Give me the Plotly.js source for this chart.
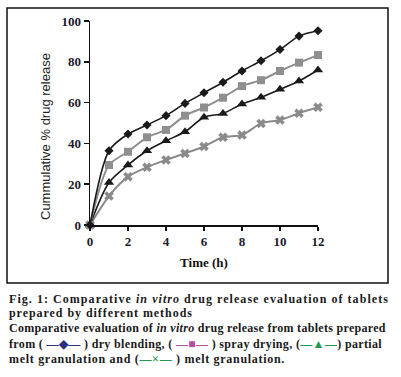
<!DOCTYPE html>
<html><head><meta charset="utf-8">
<script src="https://cdn.plot.ly/plotly-3.0.1.min.js"></script>
<style>html,body{margin:0;padding:0;background:#fff}#chart{width:401px;height:377px}</style>
</head><body><div id="chart"></div>
<script>
const time = [0,1,2,3,4,5,6,7,8,9,10,11,12];
const dryBlending = [0,36.4,44.6,49,53.6,59.6,64.8,70,75.5,80.5,86,92.6,95.2];
const sprayDrying = [0,29.4,35.9,43,46.6,53.6,57.6,62.4,68.1,71,75.5,79.6,83.3];
const partialMelt = [0,20.8,29.4,36.4,41.3,45.7,52.8,54.7,59.3,62.6,66.5,70.6,76];
const meltGran = [0,14.2,23.7,28.3,31.9,35.1,38.5,43,44.1,49.8,51.5,54.8,57.7];
const seriesNames = ['dry blending','spray drying','partial melt granulation','melt granulation'];
const xTicks = [0,2,4,6,8,10,12];
const yTicks = [0,20,40,60,80,100];

// pixel helpers for paper coords (plot area x:90..318, y:21..225)
const L=90,R=318,T=21,B=225;
const px = p => (p-L)/(R-L);
const py = p => (B-p)/(B-T);

function tr(y, name, color, symbol, msize, lw){
  return {x:time, y:y, name:name, type:'scatter', mode:'lines+markers',
    line:{color:color, width:lw, shape:'spline', smoothing:0.8},
    marker:{color:color, symbol:symbol, size:msize, line:{color:color,width:symbol==='x'?0.5:0}},
    cliponaxis:false};
}
const data = [
  tr(meltGran, seriesNames[3], '#8a8a8a', 'x', 8, 2),
  tr(partialMelt, seriesNames[2], '#1a1a1a', 'triangle-up', 9, 1.6),
  tr(sprayDrying, seriesNames[1], '#8f8f8f', 'square', 8, 2),
  tr(dryBlending, seriesNames[0], '#1a1a1a', 'diamond', 7, 1.6)
];

const capFont = {family:'Liberation Serif, serif', size:13, color:'#1a1a1a', weight:700};
function cap(y, text, size, extra){
  return Object.assign({xref:'paper', yref:'paper', x:px(7), y:py(y), xanchor:'left', yanchor:'middle',
    showarrow:false, text:text, font:Object.assign({}, capFont, {size:size})}, extra||{});
}
const layout = {
  width:401, height:377,
  margin:{l:L, r:401-R, t:T, b:377-B, pad:0},
  paper_bgcolor:'#fff', plot_bgcolor:'#fff',
  showlegend:false,
  xaxis:{range:[0,12], tickvals:xTicks, ticktext:xTicks.map(String), showgrid:false, zeroline:false,
    showline:true, linecolor:'#111', linewidth:1.5, ticks:'outside', ticklen:4, tickwidth:1.5, tickcolor:'#111',
    tickfont:{family:'Liberation Serif, serif', size:13, color:'#1a1a2a', weight:700},
    title:{text:'Time (h)', font:{family:'Liberation Serif, serif', size:13, color:'#111', weight:700}, standoff:10}},
  yaxis:{range:[0,100], tickvals:yTicks, ticktext:yTicks.map(String), showgrid:false, zeroline:false,
    showline:true, linecolor:'#111', linewidth:1.5, ticks:'outside', ticklen:5, tickwidth:1.5, tickcolor:'#111',
    tickfont:{family:'Liberation Serif, serif', size:13, color:'#1a1a2a', weight:700}},
  shapes:[{type:'rect', xref:'paper', yref:'paper', x0:px(7), x1:px(388), y0:py(283), y1:py(8),
    line:{color:'#111', width:1.5}}],
  annotations:[
    {xref:'paper', yref:'paper', x:px(45), y:py(137), text:'Cummulative % drug release', textangle:-90,
      showarrow:false, xanchor:'center', yanchor:'middle',
      font:{family:'Liberation Sans, Arial, sans-serif', size:13, color:'#222'}},
    cap(299, '<span style="letter-spacing:1.05px">Fig. 1: Comparative <i>in vitro</i> drug release evaluation of tablets</span>', 12),
    cap(313, '<span style="letter-spacing:0.95px">prepared by different methods</span>', 12),
    cap(328, '<span style="letter-spacing:0.3px">Comparative evaluation of <i>in vitro</i> drug release from tablets prepared</span>', 12),
    cap(344, '<span style="letter-spacing:0.35px">from ( <span style="color:#2b2f80">—◆—</span> ) dry blending, ( <span style="color:#b0509e">—■—</span> ) spray drying, (<span style="color:#1f9a4f">—▲—</span>) partial</span>', 12),
    cap(359, '<span style="letter-spacing:0.7px">melt granulation and (<span style="color:#1f9a4f">—×—</span> ) melt granulation.</span>', 12)
  ]
};
Plotly.newPlot('chart', data, layout, {displayModeBar:false, staticPlot:true});
</script></body></html>
